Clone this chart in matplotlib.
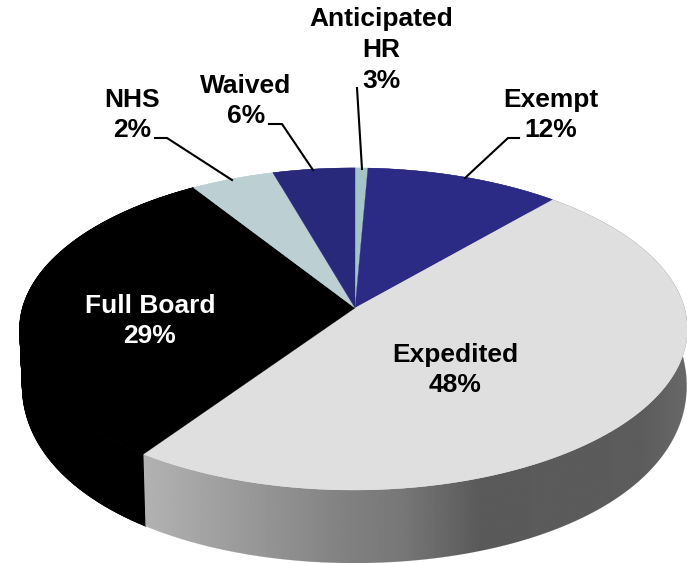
import numpy as np
import matplotlib
matplotlib.use("Agg")
import matplotlib.pyplot as plt
from matplotlib.patches import Polygon

# Data
categories = ["Anticipated\nHR", "Exempt", "Expedited", "Full Board", "NHS", "Waived"]
label_percent = [3, 12, 48, 29, 2, 6]
slice_share = [0.7, 10.7, 48.1, 31.4, 4.6, 4.5]   # drawn angular shares
top_colors = ["#a3c5c8", "#2b2b85", "#dfdfdf", "#000000", "#bccfd2", "#29297c"]
text_colors = ["black", "black", "black", "white", "black", "black"]

START_DEG = 0.3
X0, Y0, R, A, K = 353.5, 308.0, 331.0, 158.3, 0.1304


def rim(theta):
    """Clockwise angle from the top of the disc -> perspective image coordinates."""
    u, v = np.sin(theta), np.cos(theta)
    w = 1 + K * v
    return X0 + R * u / w, Y0 - A * v / w


def lower(x, y, s=1.0):
    """Point on the disc's wall, fraction s of the way down from the rim."""
    depth = 72 + 0.0483 * (y - 455) - 0.000565 * (y - 455) ** 2
    x_low = X0 + 1.0 + (x - X0) * 0.995
    return x + s * (x_low - x), y + s * depth


fig = plt.figure(figsize=(6.87, 5.63), dpi=100)
ax = fig.add_axes([0, 0, 1, 1])
ax.set_xlim(0, 687)
ax.set_ylim(563, 0)
ax.axis("off")

edges = START_DEG + np.cumsum([0] + slice_share) * 3.6
edges = np.deg2rad(edges)

# Gradient for the front wall
xs = np.arange(0, 688)
grad = np.interp(xs, [145, 350, 400, 480, 640, 687],
                 [0xb2, 0x80, 0x78, 0x5a, 0x5c, 0x68]) / 255
grad_img = np.tile(grad, (2, 1))

# Side walls
for i, col in enumerate(top_colors):
    t = np.linspace(edges[i], edges[i + 1], 300)
    x, y = rim(t)
    xb, yb = lower(x, y)
    pts = np.column_stack([np.r_[x, xb[::-1]], np.r_[y, yb[::-1]]])
    poly = Polygon(pts, closed=True, fc=col, ec=col, lw=0.3, zorder=1)
    ax.add_patch(poly)
    if categories[i] == "Expedited":
        im = ax.imshow(grad_img, extent=(0, 687, 563, 0), cmap="gray", vmin=0, vmax=1,
                       aspect="auto", zorder=1.5, interpolation="bilinear")
        im.set_clip_path(poly)
    if categories[i] == "Full Board":
        # extrude so the silhouette at the far left stays solid
        for s in np.linspace(0, 1, 80):
            xm, ym = lower(x, y, s)
            ax.plot(xm, ym, color=col, lw=0.6, zorder=1.2)
ax.set_xlim(0, 687)
ax.set_ylim(563, 0)

# Top surface
for i, col in enumerate(top_colors):
    t = np.linspace(edges[i], edges[i + 1], 200)
    x, y = rim(t)
    ax.fill(np.r_[X0 + 1.5, x], np.r_[Y0, y], fc=col, ec=col, lw=0.2, zorder=2)

# Leader lines
leaders = {
    "Anticipated\nHR": [(357, 88), (362, 169)],
    "Exempt": [(519, 138), (508, 138), (465, 178)],
    "Waived": [(269, 124), (282, 124), (313, 170)],
    "NHS": [(155, 138), (167, 138), (232, 180)],
}
for pts in leaders.values():
    p = np.array(pts)
    ax.plot(p[:, 0], p[:, 1], color="black", lw=1.5, solid_joinstyle="miter", zorder=3)

# Labels
label_pos = {
    "Anticipated\nHR": (381, 50),
    "Exempt": (551, 115),
    "Expedited": (455, 370),
    "Full Board": (150, 321),
    "NHS": (132, 115),
    "Waived": (246, 101),
}
for name, pct, tc in zip(categories, label_percent, text_colors):
    px, py = label_pos[name]
    ax.text(px, py, f"{name}\n{pct}%", ha="center", va="center", color=tc,
            fontfamily="Liberation Sans", fontweight="bold", fontsize=19,
            linespacing=1.36, zorder=4)

fig.savefig("out.png", dpi=100)
